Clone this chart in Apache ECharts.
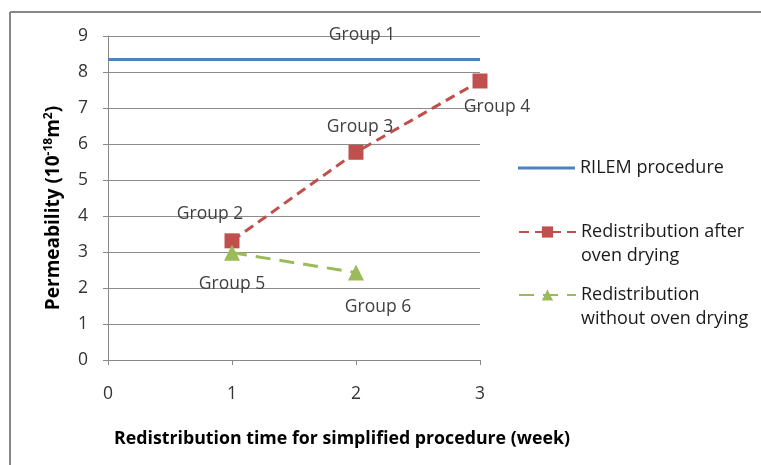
<!DOCTYPE html>
<html><head><meta charset="utf-8">
<script src="https://cdn.jsdelivr.net/npm/echarts@6/dist/echarts.min.js"></script>
<style>html,body{margin:0;padding:0;background:#fff}#c{width:761px;height:465px}</style>
</head><body><div id="c"></div>
<script>
const xTicks = [0, 1, 2, 3];
const yTicks = [0, 1, 2, 3, 4, 5, 6, 7, 8, 9];
const rilemX = [0, 2, 3];
const rilemY = [8.35, 8.35, 8.35];
const rilemLabels = ['', 'Group 1', ''];
const afterX = [1, 2, 3];
const afterY = [3.31, 5.77, 7.75];
const afterLabels = ['Group 2', 'Group 3', 'Group 4'];
const withoutX = [1, 2];
const withoutY = [2.98, 2.43];
const withoutLabels = ['Group 5', 'Group 6'];
const names = ['RILEM procedure', 'Redistribution after\noven drying', 'Redistribution\nwithout oven drying'];

const FONT = 'Open Sans';
const lblOffsets = {
  'Group 1': [6, -24], 'Group 2': [-22, -27], 'Group 3': [4, -25], 'Group 4': [17, 26],
  'Group 5': [0, 31], 'Group 6': [22, 34]
};
function mk(xs, ys, labs) {
  return xs.map((x, i) => {
    const d = { value: [x, ys[i]] };
    if (labs[i]) {
      d.label = { show: true, formatter: labs[i], position: 'inside', offset: lblOffsets[labs[i]],
        fontFamily: FONT, fontSize: 17.5, color: '#404040' };
    }
    return d;
  });
}
const legText = { fontSize: 18, color: '#1a1a1a', fontFamily: FONT, lineHeight: 24 };
const chart = echarts.init(document.getElementById('c'));
chart.setOption({
  animation: false,
  textStyle: { fontFamily: FONT },
  graphic: [
    { type: 'line', shape: { x1: 10, y1: 12, x2: 761, y2: 12 }, style: { stroke: '#888', lineWidth: 2 } },
    { type: 'line', shape: { x1: 10, y1: 12, x2: 10, y2: 465 }, style: { stroke: '#888', lineWidth: 2 } }
  ],
  grid: { left: 108, right: 281, top: 36, bottom: 105 },
  xAxis: {
    type: 'value', min: xTicks[0], max: xTicks[xTicks.length - 1], interval: 1,
    name: 'Redistribution time for simplified procedure (week)', nameLocation: 'middle', nameGap: 70,
    nameTextStyle: { fontFamily: FONT, fontSize: 17.75, fontWeight: 'bold', color: '#000', padding: [0, 0, 0, 96] },
    axisLine: { lineStyle: { color: '#888', width: 1 } },
    axisTick: { show: true, length: 5, lineStyle: { color: '#888' } },
    axisLabel: { margin: 25, fontSize: 17.5, color: '#333', fontFamily: FONT },
    splitLine: { show: false }
  },
  yAxis: {
    type: 'value', min: yTicks[0], max: yTicks[yTicks.length - 1], interval: 1,
    name: '{a|Permeability (10}{s|-18}{a|m}{s|2}{a|)}', nameLocation: 'middle', nameGap: 43, nameRotate: 90,
    nameTextStyle: { fontFamily: FONT, fontSize: 19, fontWeight: 'bold', color: '#000', padding: [0, 20, 0, 0],
      rich: {
        a: { fontFamily: FONT, fontSize: 19, fontWeight: 'bold', color: '#000' },
        s: { fontFamily: FONT, fontSize: 12, fontWeight: 'bold', color: '#000', padding: [0, 0, 10, 0] }
      } },
    axisLine: { show: true, lineStyle: { color: '#888', width: 1 } },
    axisTick: { show: true, length: 5, lineStyle: { color: '#888' } },
    axisLabel: { margin: 20, fontSize: 17.5, color: '#333', fontFamily: FONT },
    splitLine: { lineStyle: { color: '#8c8c8c', width: 1 } }
  },
  legend: [
    { data: [{ name: names[0], icon: 'rect' }], orient: 'vertical', left: 518, top: 156, padding: 0,
      itemWidth: 57, itemHeight: 3, textStyle: legText },
    { data: [names[1]], orient: 'vertical', left: 518, top: 196, padding: 0, itemWidth: 57, itemHeight: 14,
      formatter: n => '\u00a0\n' + n, textStyle: legText },
    { data: [names[2]], orient: 'vertical', left: 518, top: 259, padding: 0, itemWidth: 57, itemHeight: 14,
      formatter: n => '\u00a0\n' + n, textStyle: legText }
  ],
  series: [
    { name: names[0], type: 'line', data: mk(rilemX, rilemY, rilemLabels), showSymbol: true, symbol: 'circle', symbolSize: 0,
      lineStyle: { color: '#4F81BD', width: 3 }, itemStyle: { color: '#4F81BD' } },
    { name: names[1], type: 'line', data: mk(afterX, afterY, afterLabels), symbol: 'rect', symbolSize: 15,
      lineStyle: { color: '#C0504D', width: 3, type: [10, 6] }, itemStyle: { color: '#C0504D' } },
    { name: names[2], type: 'line', data: mk(withoutX, withoutY, withoutLabels), symbol: 'triangle', symbolSize: 16,
      lineStyle: { color: '#9BBB59', width: 3, type: [15, 9] }, itemStyle: { color: '#9BBB59' } }
  ]
});
</script></body></html>
